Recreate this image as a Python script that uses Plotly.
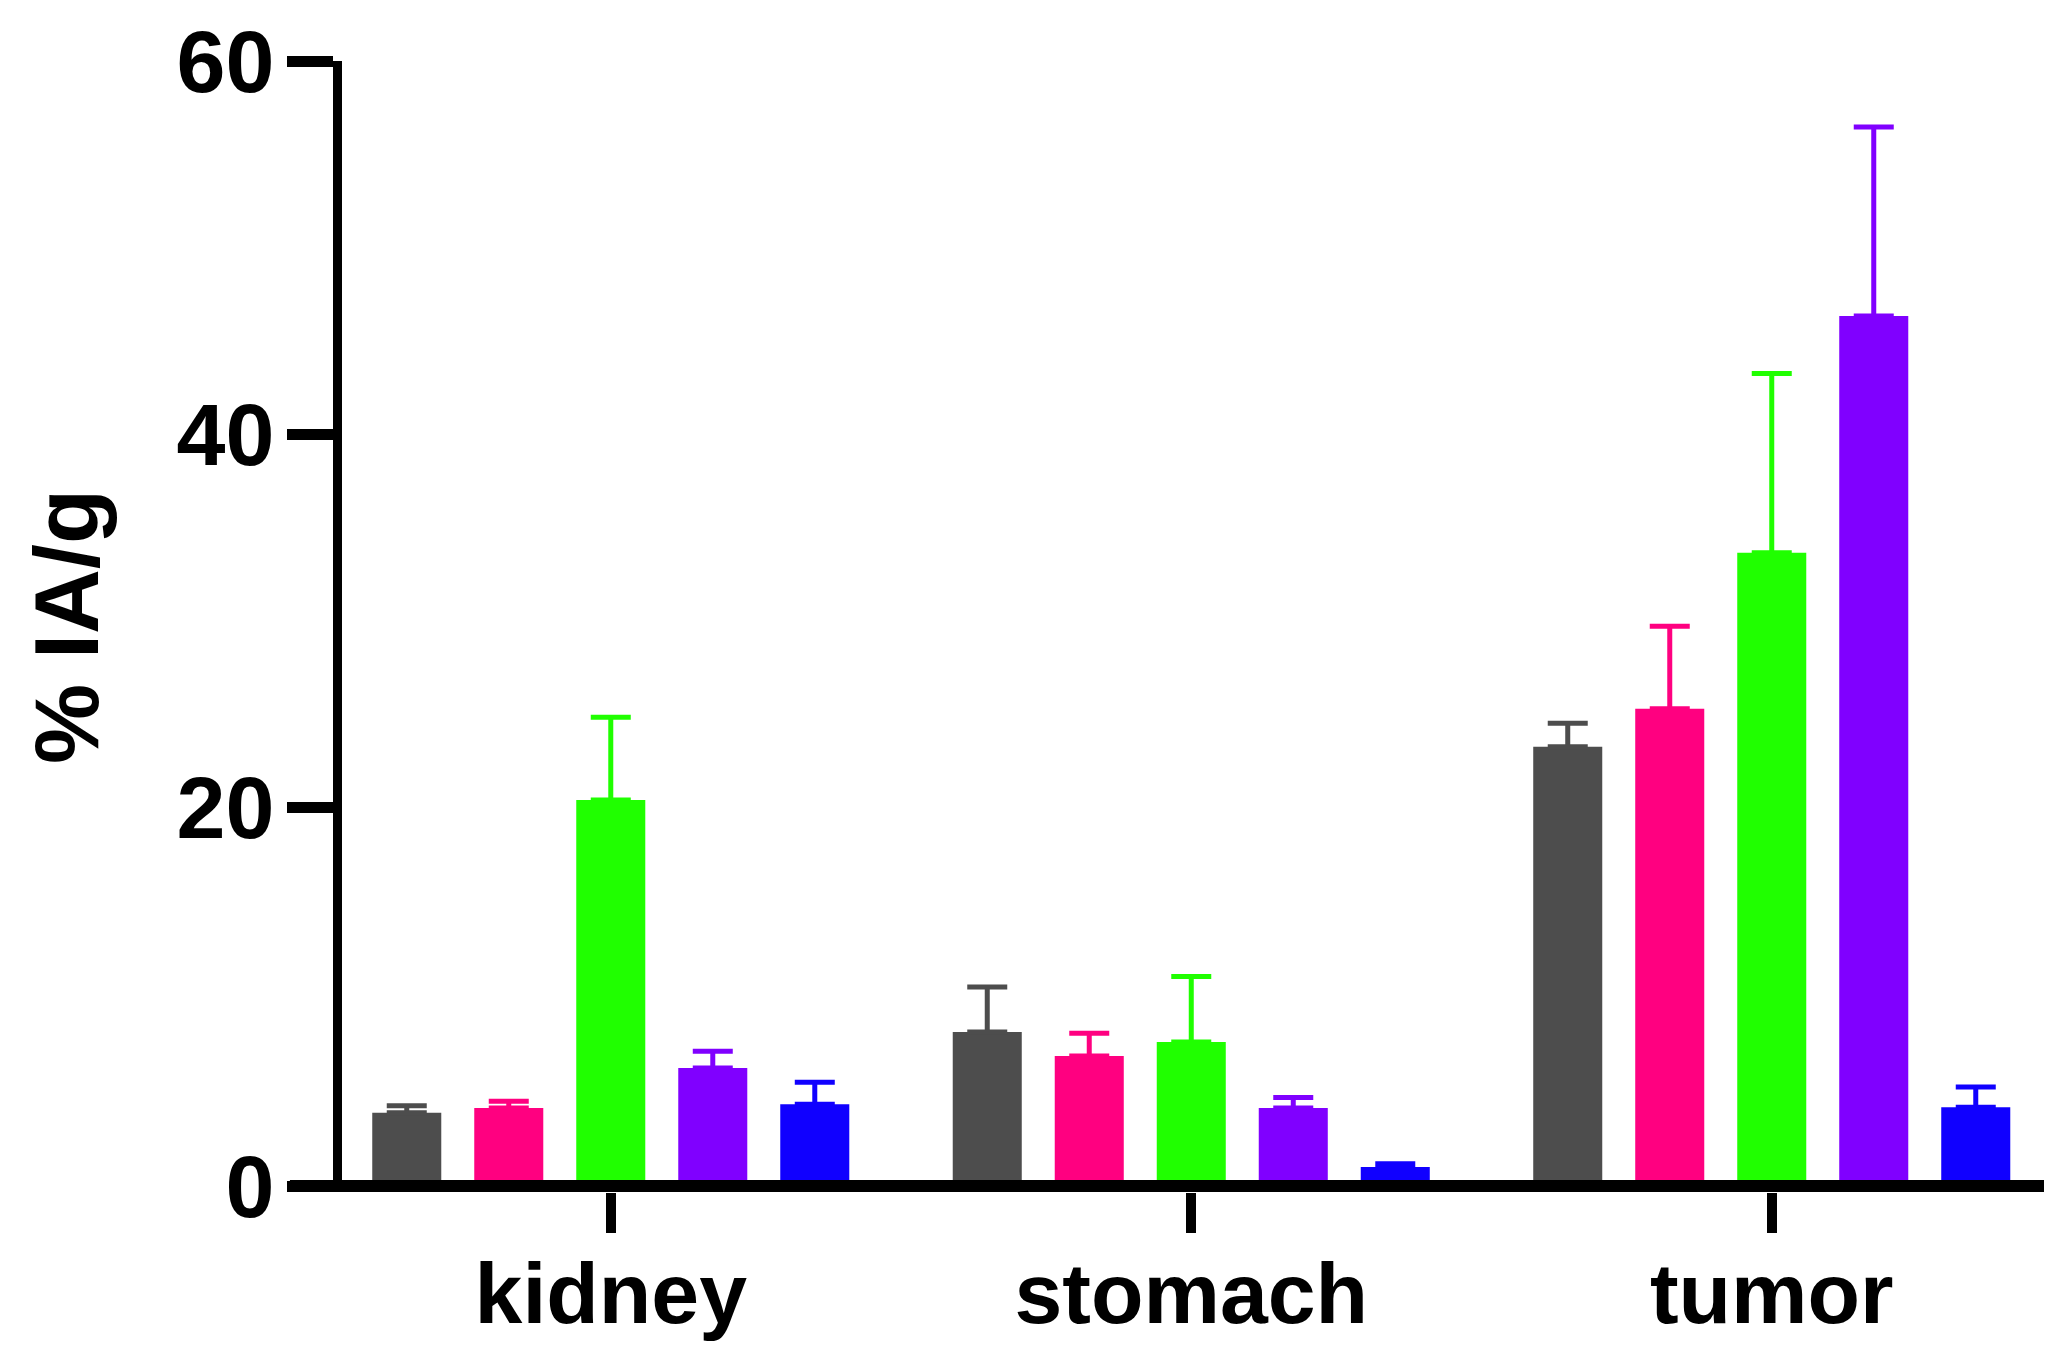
import plotly.graph_objects as go

categories = ["kidney", "stomach", "tumor"]
series_names = ["Group 1", "Group 2", "Group 3", "Group 4", "Group 5"]
colors = ["#4d4d4d", "#ff0080", "#20ff00", "#8000ff", "#1000ff"]

means = [
    [3.61, 7.94, 23.23],
    [3.86, 6.65, 25.27],
    [20.38, 7.40, 33.64],
    [6.01, 3.86, 46.33],
    [4.07, 0.70, 3.91],
]
errors = [
    [0.37, 2.41, 1.26],
    [0.36, 1.22, 4.42],
    [4.43, 3.52, 9.61],
    [0.89, 0.57, 10.13],
    [1.17, 0.18, 1.08],
]

y_tick_labels = ["0", "20", "40", "60"]
y_tick_values = [-0.32, 20, 40, 60]   # "0" sits on the centre of the thick baseline

fig = go.Figure()
for name, col, m, e in zip(series_names, colors, means, errors):
    fig.add_trace(go.Bar(
        x=categories, y=m, name=name,
        marker=dict(color=col, line=dict(width=0)),
        error_y=dict(type="data", array=e, arrayminus=[0] * len(e),
                     symmetric=False, color=col, thickness=5, width=20),
        showlegend=False,
    ))

font_family = "Liberation Sans, Arial, sans-serif"

# page body has an 8px default margin; figure is sized to fit inside the window
plot_h = 1341 - 53 - 157
fig.update_layout(
    width=2048, height=1341,
    margin=dict(l=334, r=12, t=53, b=157),
    paper_bgcolor="white", plot_bgcolor="white",
    barmode="group", bargap=0.1214, bargroupgap=0.3233,
    xaxis=dict(
        range=[-0.463, 2.469], showgrid=False, zeroline=False, showline=False,
        ticks="outside", ticklen=40, tickwidth=10, tickcolor="black",
        tickfont=dict(family=font_family, size=86, color="black", weight="bold"),
        ticklabelstandoff=-13,
        automargin=False,
    ),
    yaxis=dict(
        range=[-0.64, 60], tickvals=y_tick_values, ticktext=y_tick_labels,
        showgrid=False, zeroline=False, showline=True, linewidth=9, linecolor="black",
        ticks="outside", ticklen=46, tickwidth=11, tickcolor="black",
        tickfont=dict(family=font_family, size=88, color="black", weight="bold"),
        ticklabelstandoff=-5,
        title=dict(text="% IA/g", standoff=52,
                   font=dict(family=font_family, size=90, color="black", weight="bold")),
        automargin=False,
    ),
    shapes=[dict(type="rect", xref="paper", yref="paper",
                 x0=-0.0306, x1=1.0, y0=0, y1=12 / plot_h,
                 fillcolor="black", line=dict(width=0), layer="above")],
)

fig.write_html("out.html")
